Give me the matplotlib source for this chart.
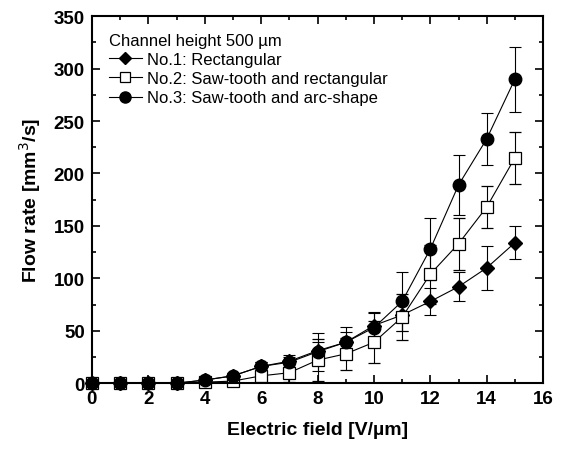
import matplotlib.pyplot as plt
from matplotlib.lines import Line2D
import numpy as np

plt.rcParams['font.family'] = ['Liberation Sans', 'DejaVu Sans']

field = np.arange(0, 16)

rect = [0, 0, 0, 0, 3, 7, 16, 21, 31, 39, 55, 65, 78, 92, 110, 134]
rect_err = [0, 0, 0, 0, 1, 3, 4, 6, 8, 10, 12, 15, 13, 14, 21, 16]

saw_rect = [0, 0, 0, 0, 1, 2, 7, 10, 22, 28, 39, 63, 104, 133, 168, 215]
saw_rect_err = [0, 0, 0, 0, 1, 3, 5, 9, 20, 15, 20, 22, 28, 25, 20, 25]

saw_arc = [0, 0, 0, 0, 3, 7, 16, 20, 30, 39, 53, 78, 128, 189, 233, 290]
saw_arc_err = [0, 0, 0, 0, 1, 3, 4, 5, 18, 15, 15, 28, 30, 29, 25, 31]

labels = ['No.1: Rectangular', 'No.2: Saw-tooth and rectangular',
          'No.3: Saw-tooth and arc-shape']
styles = [dict(marker='D', ms=7, mfc='black'),
          dict(marker='s', ms=8, mfc='white', mew=0.9),
          dict(marker='o', ms=9, mfc='black')]

fig = plt.figure(figsize=(5.64, 4.52), dpi=100)
ax = fig.add_axes([0.163, 0.150, 0.800, 0.812])

handles = []
for y, err, st, lab in zip([rect, saw_rect, saw_arc],
                           [rect_err, saw_rect_err, saw_arc_err], styles, labels):
    eb = ax.errorbar(field, y, yerr=err, color='black', lw=0.8, capsize=4,
                     elinewidth=0.8, capthick=0.8, **st)
    arts = [eb.lines[0]] + list(eb.lines[1]) + list(eb.lines[2])
    for art in arts:
        art.set_clip_on(False)
    handles.append(Line2D([], [], color='black', lw=0.8, marker=st['marker'],
                          ms=st['ms'] - 1, mfc=st['mfc'], mew=st.get('mew', 1.0)))

ax.set_xlim(0, 16)
ax.set_ylim(0, 350)
ax.set_xticks(np.arange(0, 17, 2))
ax.set_xticks(np.arange(0, 17, 1), minor=True)
ax.set_yticks(np.arange(0, 351, 50))
ax.set_yticks(np.arange(0, 351, 25), minor=True)
ax.tick_params(which='both', direction='in', top=True, right=True, width=1.2)
ax.tick_params(which='major', length=6, labelsize=13.5, pad=5)
ax.tick_params(which='minor', length=3)
for lbl in ax.get_xticklabels() + ax.get_yticklabels():
    lbl.set_fontweight('bold')
for sp in ax.spines.values():
    sp.set_linewidth(1.5)

ax.set_xlabel('Electric field [V/\u00b5m]', fontsize=14, fontweight='bold', labelpad=10)
ax.set_ylabel('Flow rate [mm$^3$/s]', fontsize=14, fontweight='bold', labelpad=8)

leg = ax.legend(handles, labels, loc='upper left', title='Channel height 500 \u00b5m',
                frameon=False, fontsize=12, title_fontsize=12, handlelength=2.0,
                handletextpad=0.3, labelspacing=0.25, borderaxespad=0.6)
leg._legend_box.align = 'left'

fig.savefig('out.png', dpi=100)
